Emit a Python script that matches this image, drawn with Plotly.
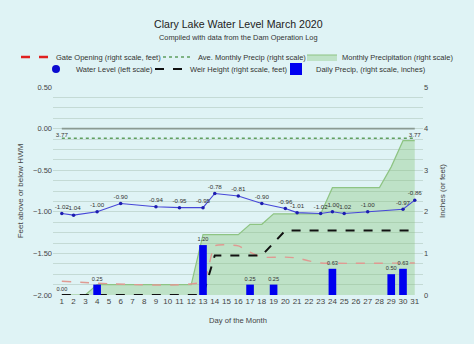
import plotly.graph_objects as go

# ---------------- data ----------------
days = list(range(1, 32))
tick_days = days

# Daily precipitation (inches), right scale
daily_precip = [0.00, 0, 0, 0.25, 0, 0, 0, 0, 0, 0, 0, 0, 1.20, 0, 0, 0, 0.25, 0, 0.25, 0,
                0, 0, 0, 0.63, 0, 0, 0, 0, 0.50, 0.63, 0]
daily_labels = ["0.00", "", "", "0.25", "", "", "", "", "", "", "", "", "1.20", "", "", "", "0.25", "",
                "0.25", "", "", "", "", "0.63", "", "", "", "", "0.50", "0.63", ""]

# Monthly (cumulative) precipitation, right scale
monthly_precip = [0, 0, 0, 0.25, 0.25, 0.25, 0.25, 0.25, 0.25, 0.25, 0.25, 0.25, 1.45, 1.45, 1.45, 1.45,
                  1.70, 1.70, 1.95, 1.95, 1.95, 1.95, 1.95, 2.58, 2.58, 2.58, 2.58, 2.58, 3.08, 3.71, 3.71]

# Average monthly precipitation
ave_days = [1, 31]
ave_precip = [3.77, 3.77]
ave_labels = ["3.77", "3.77"]

# Gate opening (feet), right scale
gate_days = [1, 13, 14, 16, 17, 18, 20, 21, 22, 23, 31]
gate_open = [0.33, 0.33, 1.18, 1.18, 1.03, 0.91, 0.91, 0.89, 0.82, 0.77, 0.77]

# Weir height (feet), right scale
weir_days = [1, 13, 14, 18, 20, 31]
weir_height = [0, 0, 0.95, 0.95, 1.55, 1.55]

# Water level (feet relative to HWM), left scale
wl_days = [1, 2, 4, 6, 9, 11, 13, 14, 16, 18, 20, 21, 23, 24, 25, 27, 30, 31]
wl_vals = [-1.02, -1.04, -1.00, -0.90, -0.94, -0.95, -0.95, -0.78, -0.81, -0.90, -0.96, -1.01,
           -1.02, -1.00, -1.02, -1.00, -0.97, -0.86]

# HWM reference line
hwm_days = [1, 31]
hwm_vals = [0, 0]

# ---------------- style ----------------
FONT = "Liberation Sans, Arial, sans-serif"
BG = "#dff3f5"
GRID = "#c4dad5"
TXT = "#333333"

fig = go.Figure()

# right-scale traces (primary y)
fig.add_trace(go.Scatter(
    x=days, y=monthly_precip, mode="lines", fill="tozeroy",
    fillcolor="rgba(125,190,105,0.33)", line=dict(color="#8ec483", width=1.2),
    name="Monthly Precipitation (right scale)", legend="legend3", yaxis="y"))

fig.add_trace(go.Scatter(
    x=ave_days, y=ave_precip, mode="lines+text", text=ave_labels, textposition="top center",
    textfont=dict(size=6.2, color=TXT, family=FONT),
    line=dict(color="#5f9f5f", width=1.5, dash="dot"),
    name="Ave. Monthly Precip (right scale)", legend="legend2", yaxis="y"))

fig.add_trace(go.Scatter(
    x=gate_days, y=gate_open, mode="lines", line=dict(color="#df9a92", width=1.4, dash="dash"),
    line_shape="spline", line_smoothing=0.5,
    showlegend=False, name="Gate Opening (right scale, feet)", yaxis="y"))
# legend entry for gate opening
fig.add_trace(go.Scatter(
    x=[None], y=[None], mode="lines", line=dict(color="#e02020", width=2.5, dash="dash"),
    name="Gate Opening (right scale, feet)", legend="legend", yaxis="y"))

fig.add_trace(go.Scatter(
    x=weir_days, y=weir_height, mode="lines", line=dict(color="#111111", width=2, dash="dash"),
    name="Weir Height (right scale, feet)", legend="legend5", yaxis="y"))

# left-scale traces
fig.add_trace(go.Scatter(
    x=hwm_days, y=hwm_vals, mode="lines", line=dict(color="#8a9a92", width=1.6),
    showlegend=False, hoverinfo="skip", yaxis="y2"))

fig.add_trace(go.Scatter(
    x=wl_days, y=wl_vals, mode="lines+markers+text", text=[f"{v:.2f}" for v in wl_vals],
    textposition="top center", textfont=dict(size=6.2, color=TXT, family=FONT),
    line=dict(color="#4646d8", width=1.1), marker=dict(color="#1c1cb0", size=3.5),
    showlegend=False, name="Water Level (left scale)", yaxis="y2"))
fig.add_trace(go.Scatter(
    x=[None], y=[None], mode="markers", marker=dict(color="#0a0ad0", size=8),
    name="Water Level (left scale)", legend="legend4", yaxis="y2"))

# bars on their own overlay so they sit above the fill
fig.add_trace(go.Bar(
    x=days, y=daily_precip, width=0.65, marker=dict(color="#0000f0", line=dict(width=0)),
    text=daily_labels, textposition="outside", textfont=dict(size=5.6, color=TXT, family=FONT),
    constraintext="none", cliponaxis=False,
    name="Daily Precip, (right scale, inches)", legend="legend6", yaxis="y3"))

left, right_px, top, bottom = 53, 423, 87, 295
plot_w, plot_h = right_px - left, bottom - top


def py(ypx):
    return (bottom - ypx) / plot_h


def px(xpx):
    return (xpx - left) / plot_w


def leg(xpx, ypx, anchor="left"):
    return dict(orientation="h", x=px(xpx), xanchor=anchor, y=py(ypx), yanchor="middle",
                font=dict(size=7.5, color="#333"), bgcolor="rgba(0,0,0,0)", itemwidth=30,
                tracegroupgap=0, borderwidth=0)


fig.update_layout(
    width=474, height=344,
    margin=dict(l=left, r=474 - right_px, t=top, b=344 - bottom),
    paper_bgcolor=BG, plot_bgcolor=BG,
    font=dict(family=FONT, size=8, color=TXT),
    showlegend=True,
    xaxis=dict(range=[0.25, 31.7], tickmode="array", tickvals=tick_days,
               ticktext=[str(d) for d in tick_days], showgrid=False, zeroline=False,
               tickfont=dict(size=8, color="#444"),
               title=dict(text="Day of the Month", font=dict(size=7.6, color="#444"), standoff=12)),
    yaxis=dict(range=[0, 5], side="right", dtick=1, tickformat="d", showgrid=True, gridcolor=GRID,
               gridwidth=1, zeroline=False,
               minor=dict(dtick=0.25, showgrid=True, gridcolor=GRID, gridwidth=1),
               tickfont=dict(size=7.5, color="#444"),
               title=dict(text="Inches (or feet)", font=dict(size=8, color="#444"), standoff=12)),
    yaxis2=dict(range=[-2, 0.5], overlaying="y", side="left", dtick=0.5, tickformat=".2f",
                showgrid=False, zeroline=False, tickfont=dict(size=7.5, color="#444"),
                title=dict(text="Feet above or below HWM", font=dict(size=8, color="#444"), standoff=8)),
    yaxis3=dict(range=[0, 5], overlaying="y", visible=False),
    legend=leg(56 - 40, 57),
    legend2=leg(198 - 40, 57),
    legend3=leg(343 + 111 + 5, 57, "right"),
    legend4=leg(76 - 40, 69),
    legend5=leg(190 - 40, 69),
    legend6=leg(316 - 40, 69),
    annotations=[
        dict(text="Clary Lake Water Level March 2020", x=0.5, xref="paper", y=py(24), yref="paper",
             showarrow=False, font=dict(size=10.6, color="#222"), yanchor="middle"),
        dict(text="Compiled with data from the Dam Operation Log", x=0.5, xref="paper", y=py(38),
             yref="paper", showarrow=False, font=dict(size=7.4, color="#333"), yanchor="middle"),
    ],
)

fig.write_html("out.html")
